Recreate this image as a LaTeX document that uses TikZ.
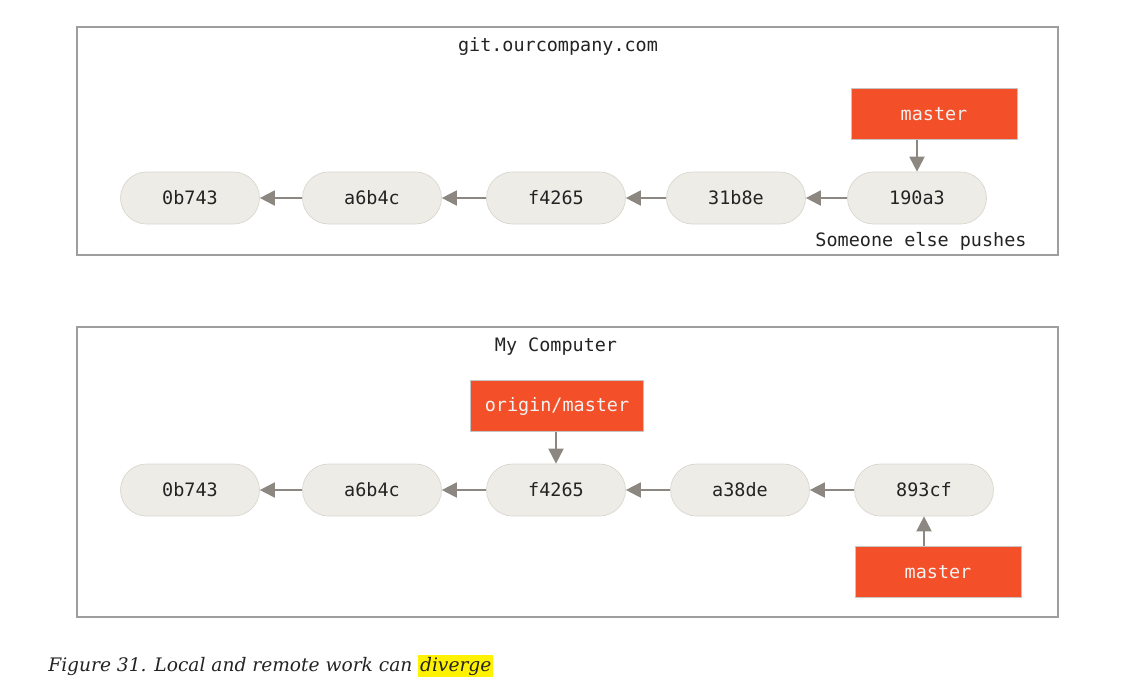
\documentclass[tikz,border=0pt]{standalone}
\usepackage{fontspec}
\setmonofont{DejaVu Sans Mono}
\newfontfamily\capfont{DejaVu Serif}
\usetikzlibrary{arrows.meta}
\definecolor{commitfill}{HTML}{EDECE6}
\definecolor{commitline}{HTML}{D9D7CF}
\definecolor{linkgray}{HTML}{8C8780}
\definecolor{branchred}{HTML}{F34F29}
\definecolor{framegray}{HTML}{9E9E9E}
\definecolor{inktext}{HTML}{232323}
\definecolor{hilite}{HTML}{FFF200}
\begin{document}
\begin{tikzpicture}[x=0.02cm, y=-0.02cm,
    every node/.style={font=\ttfamily\fontsize{10.5}{12}\selectfont, text=inktext},
    commit/.style={draw=commitline, fill=commitfill, rounded corners=0.52cm,
        minimum width=2.78cm, minimum height=1.04cm, inner sep=0pt},
    branch/.style={draw=framegray!60, fill=branchred, text=white!95!black,
        minimum width=3.32cm, minimum height=1.02cm, inner sep=0pt},
    repo/.style={draw=framegray, line width=0.8pt},
    link/.style={draw=linkgray, line width=1.1pt,
        -{Triangle[length=0.3cm, width=0.3cm]}}]
        \useasboundingbox (0,0) rectangle (1133,681);

        % remote repository
        \draw[repo] (77,27) rectangle (1058,255);
        \node (remote) at (558,46) {git.ourcompany.com};
        \node[commit] (r1) at (190,198) {0b743};
        \node[commit] (r2) at (372,198) {a6b4c};
        \node[commit] (r3) at (556,198) {f4265};
        \node[commit] (r4) at (736,198) {31b8e};
        \node[commit] (r5) at (917,198) {190a3};
        \node[branch] (rmaster) at (934,114) {master};
        \node (pushes) at (921,241) {Someone else pushes};

        \path[link] (r2) -- (r1);
        \path[link] (r3) -- (r2);
        \path[link] (r4) -- (r3);
        \path[link] (r5) -- (r4);
        \path[link] (r5 |- rmaster.south) -- (r5);

        % local repository
        \draw[repo] (77,327) rectangle (1058,617);
        \node (local) at (556,347) {My Computer};
        \node[commit] (l1) at (190,490) {0b743};
        \node[commit] (l2) at (372,490) {a6b4c};
        \node[commit] (l3) at (556,490) {f4265};
        \node[commit] (l4) at (740,490) {a38de};
        \node[commit] (l5) at (924,490) {893cf};
        \node[branch, minimum width=3.46cm] (origin) at (557,406) {origin/master};
        \node[branch] (lmaster) at (938,572) {master};

        \path[link] (l2) -- (l1);
        \path[link] (l3) -- (l2);
        \path[link] (l4) -- (l3);
        \path[link] (l5) -- (l4);
        \path[link] (l3 |- origin.south) -- (l3);
        \path[link] (l5 |- lmaster.north) -- (l5);

        % caption
        \node[anchor=west, inner sep=0pt, font=\capfont\itshape\fontsize{10.6}{13}\selectfont]
            (caption) at (48,666) {Figure 31. Local and remote work can {\setlength\fboxsep{1pt}\colorbox{hilite}{diverge}}};
\end{tikzpicture}
\end{document}
